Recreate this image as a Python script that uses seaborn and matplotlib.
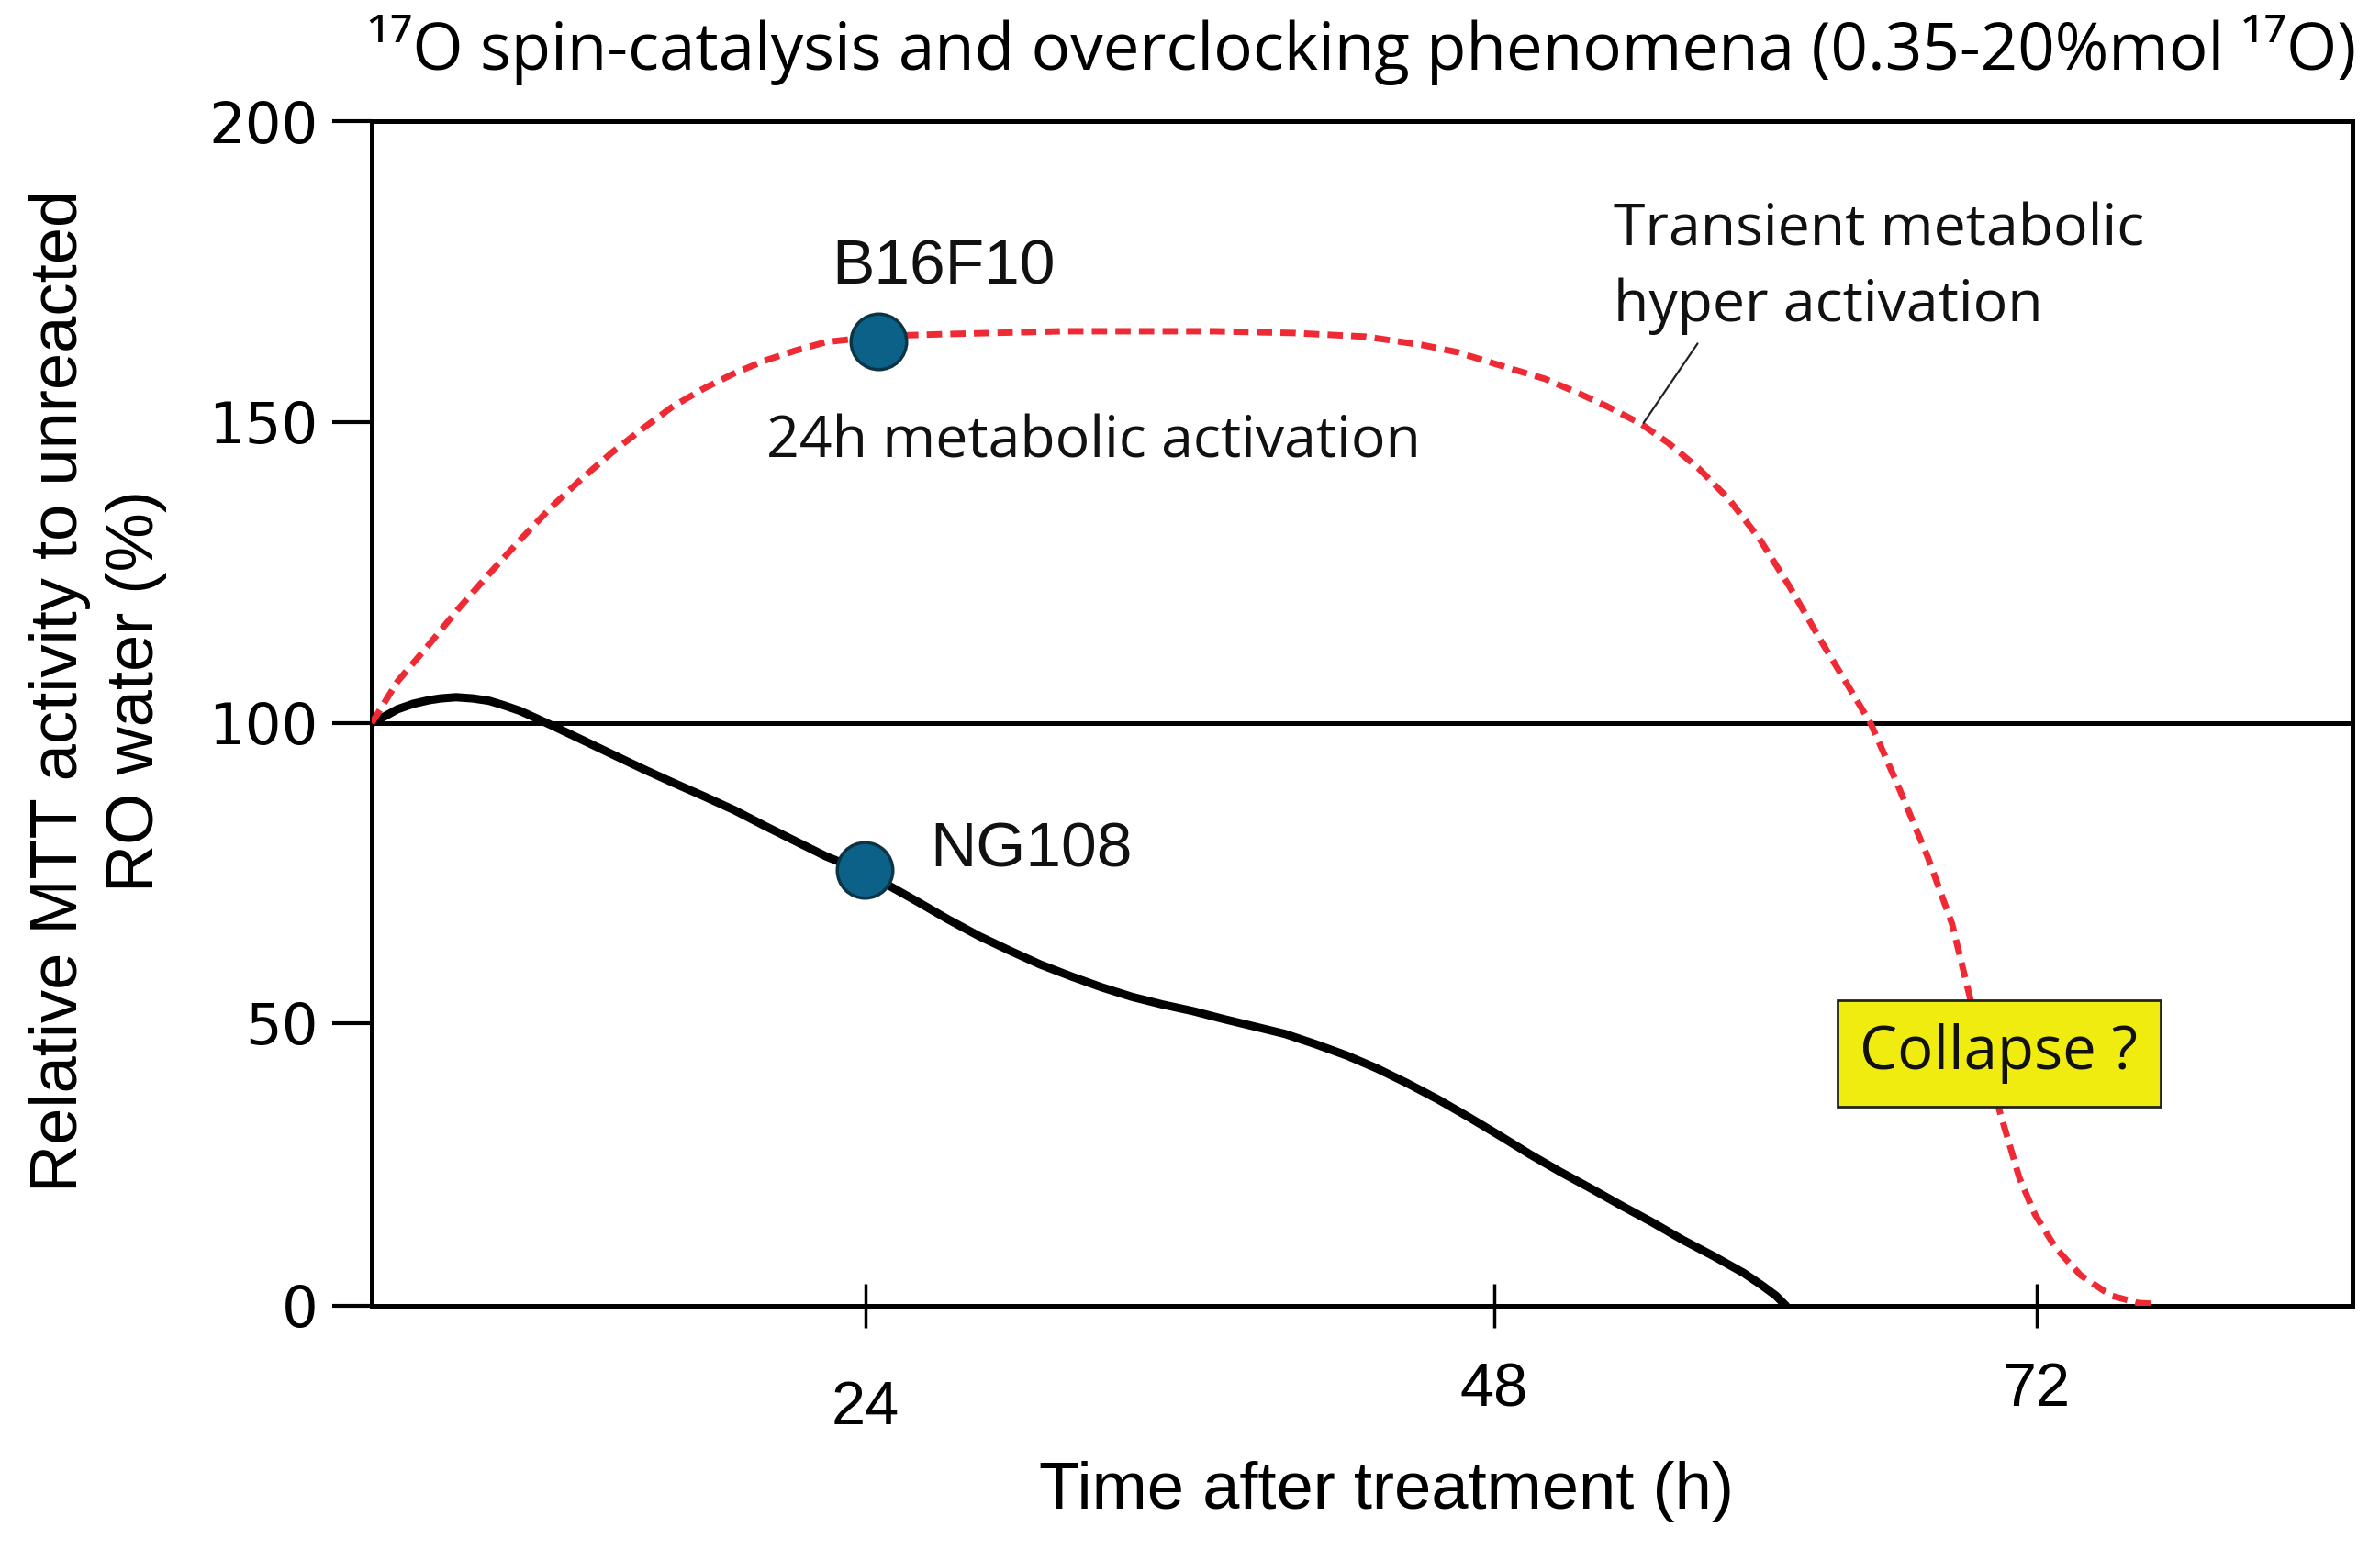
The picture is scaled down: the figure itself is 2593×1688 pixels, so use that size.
import numpy as np
import pandas as pd
import matplotlib
matplotlib.use("Agg")
import matplotlib.pyplot as plt
import seaborn as sns

# B16F10 (red dashed): time after treatment (h) / relative MTT activity (%)
b16_time = [0, 1.25, 2.77, 4.24, 5.71, 7.23, 8.70, 10.17, 11.69, 13.16, 14.63, 16.15,
            17.62, 19.09, 20.61, 22.08, 24.56, 26.87, 31.53, 37.31, 40.35, 43.09, 45.27, 46.6,
            47.72, 48.89, 50.23, 51.61, 52.95, 54.5, 55.68, 57.02, 58.36, 59.74, 61.08, 62.42,
            63.8, 64.65, 65.83, 67.17, 68.26, 69.08, 69.69, 70.29, 71.23, 71.92, 72.85, 73.95,
            75.3, 76.5, 77.33]
b16_value = [100, 106.9, 113.0, 119.1, 124.8, 130.5, 135.8, 140.5, 145.0, 148.9, 152.6, 155.6,
             158.1, 160.2, 161.9, 163.3, 164.3, 164.6, 165.1, 165.1, 164.8, 164.2, 162.8, 161.6,
             160.1, 158.7, 157.2, 155.0, 152.7, 149.7, 146.6, 142.4, 137.3, 130.6, 122.6, 113.9,
             105.3, 100, 89.9, 77.8, 66.5, 53.8, 44.6, 35.4, 22.7, 16.2, 10.2, 5.4,
             1.8, 0.5, 0.3]

# NG108 (black solid)
ng_time = [0, 0.67, 1.25, 2.01, 2.77, 3.35, 4.10, 4.91, 5.71, 6.47, 7.23, 7.94, 8.70,
           10.17, 11.69, 13.16, 14.63, 16.15, 17.62, 19.09, 20.61, 22.08, 23.96, 26.0, 27.15,
           28.34, 29.5, 30.66, 31.85, 33.0, 34.16, 35.35, 36.51, 37.66, 38.86, 40.01, 41.17,
           42.36, 43.52, 44.67, 45.86, 47.02, 48.2, 49.58, 50.92, 52.26, 53.64, 54.98, 56.32,
           57.7, 59.04, 59.85, 60.46, 60.91]
ng_value = [100, 101.2, 102.3, 103.2, 103.8, 104.1, 104.3, 104.1, 103.7, 102.9, 102.0, 100.9, 99.7,
            97.3, 94.8, 92.4, 90.1, 87.8, 85.5, 82.9, 80.3, 77.8, 75.2, 70.2, 67.3,
            64.5, 62.1, 59.8, 57.8, 56.0, 54.4, 53.1, 52.0, 50.7, 49.4, 48.1, 46.3,
            44.3, 42.0, 39.4, 36.5, 33.4, 30.2, 26.8, 23.7, 20.8, 17.7, 14.8, 11.7,
            8.8, 5.8, 3.6, 1.8, 0]

# highlighted points at 24 h
point_names = ["B16F10", "NG108"]
point_time = [24.5, 23.96]
point_value = [163.4, 75.5]

x_ticks = [24, 48, 72]
y_ticks = [0, 50, 100, 150, 200]

# the original axes are drawn with uneven spacing between ticks
hour_knots = [0, 24, 48, 72, 86]
hour_span = [0, 538, 1223, 1814, 2158]
pct_knots = [0, 50, 100, 150, 200]
pct_span = [0, 308, 635, 963, 1291]


def fwd_x(v):
    return np.interp(v, hour_knots, hour_span)


def inv_x(v):
    return np.interp(v, hour_span, hour_knots)


def fwd_y(v):
    return np.interp(v, pct_knots, pct_span)


def inv_y(v):
    return np.interp(v, pct_span, pct_knots)


sns.set_theme(style="ticks")
plt.rcParams["font.family"] = ["Liberation Sans", "DejaVu Sans"]
ann_font = ["Open Sans", "DejaVu Sans"]

fig, ax = plt.subplots(figsize=(25.93, 16.88), dpi=100)
fig.subplots_adjust(left=0.1562, right=0.9884, bottom=0.1570, top=0.9218)

ax.set_xscale("function", functions=(fwd_x, inv_x))
ax.set_yscale("function", functions=(fwd_y, inv_y))

ax.axhline(100, color="black", linewidth=3.6, zorder=1)

df_b16 = pd.DataFrame({"time": b16_time, "value": b16_value})
df_ng = pd.DataFrame({"time": ng_time, "value": ng_value})

sns.lineplot(data=df_ng, x="time", y="value", ax=ax, color="black", linewidth=6.5,
             estimator=None, sort=False, zorder=2)
sns.lineplot(data=df_b16, x="time", y="value", ax=ax, color="#ee2a35", linewidth=5,
             linestyle=(0, (2.4, 1.3)), estimator=None, sort=False, zorder=3)
sns.scatterplot(x=point_time, y=point_value, ax=ax, s=1900, color="#0b6187",
                edgecolor="#0c3447", linewidth=2.5, zorder=5)

ax.set_xlim(0, 86)
ax.set_ylim(0, 200)
ax.set_xticks(x_ticks)
ax.set_yticks(y_ticks)
ax.set_xticklabels([str(t) for t in x_ticks])
ax.set_yticklabels([str(t) for t in y_ticks], family=["DejaVu Sans"])
ax.minorticks_off()
ax.tick_params(axis="x", direction="inout", length=34, width=2.5, pad=27,
               labelsize=48, color="black", labelcolor="black")
ax.tick_params(axis="y", direction="out", length=31, width=3, pad=11,
               labelsize=45, color="black", labelcolor="black")
ax.xaxis.get_major_ticks()[0].set_pad(41)

for s in ax.spines.values():
    s.set_linewidth(3.6)
    s.set_color("black")

ax.set_xlabel("Time after treatment (h)", fontsize=52, color="black")
ax.xaxis.label.set_va("center")
ax.xaxis.set_label_coords(0.5125, -0.1565)
ax.set_ylabel("Relative MTT activity to unreacted\nRO water (%)", fontsize=52,
              color="black", linespacing=1.3)
ax.yaxis.label.set_va("center")
ax.yaxis.set_label_coords(-0.138, 0.519)

fig.text(0.5723, 0.955, "\u00b9\u2077O spin-catalysis and overclocking phenomena (0.35-20%mol \u00b9\u2077O)",
         ha="center", va="baseline", fontsize=51, family=ann_font, color="black")

# labels next to the points
ax.text(22.35, 173.0, point_names[0], ha="left", va="baseline", fontsize=50, color="#111111")
ax.text(26.45, 76.0, point_names[1], ha="left", va="baseline", fontsize=50, color="#111111")

ax.text(19.18, 144.1, "24h metabolic activation", ha="left", va="baseline",
        fontsize=45, family=ann_font, color="#111111")
ax.text(53.28, 179.3, "Transient metabolic", ha="left", va="baseline",
        fontsize=45, family=ann_font, color="#111111")
ax.text(53.28, 166.8, "hyper activation", ha="left", va="baseline",
        fontsize=45, family=ann_font, color="#111111")
ax.annotate("", xy=(54.54, 149.5), xytext=(57.06, 163.4),
            arrowprops=dict(arrowstyle="-", color="#222222", lw=1.6))

ax.text(70.33, 44.6, "Collapse ?", ha="center", va="center", fontsize=47,
        family=ann_font, color="#111111", zorder=6,
        bbox=dict(boxstyle="square,pad=0.38", fc="#f0ec10", ec="#222222", lw=2))

fig.savefig("out.png", dpi=100)
